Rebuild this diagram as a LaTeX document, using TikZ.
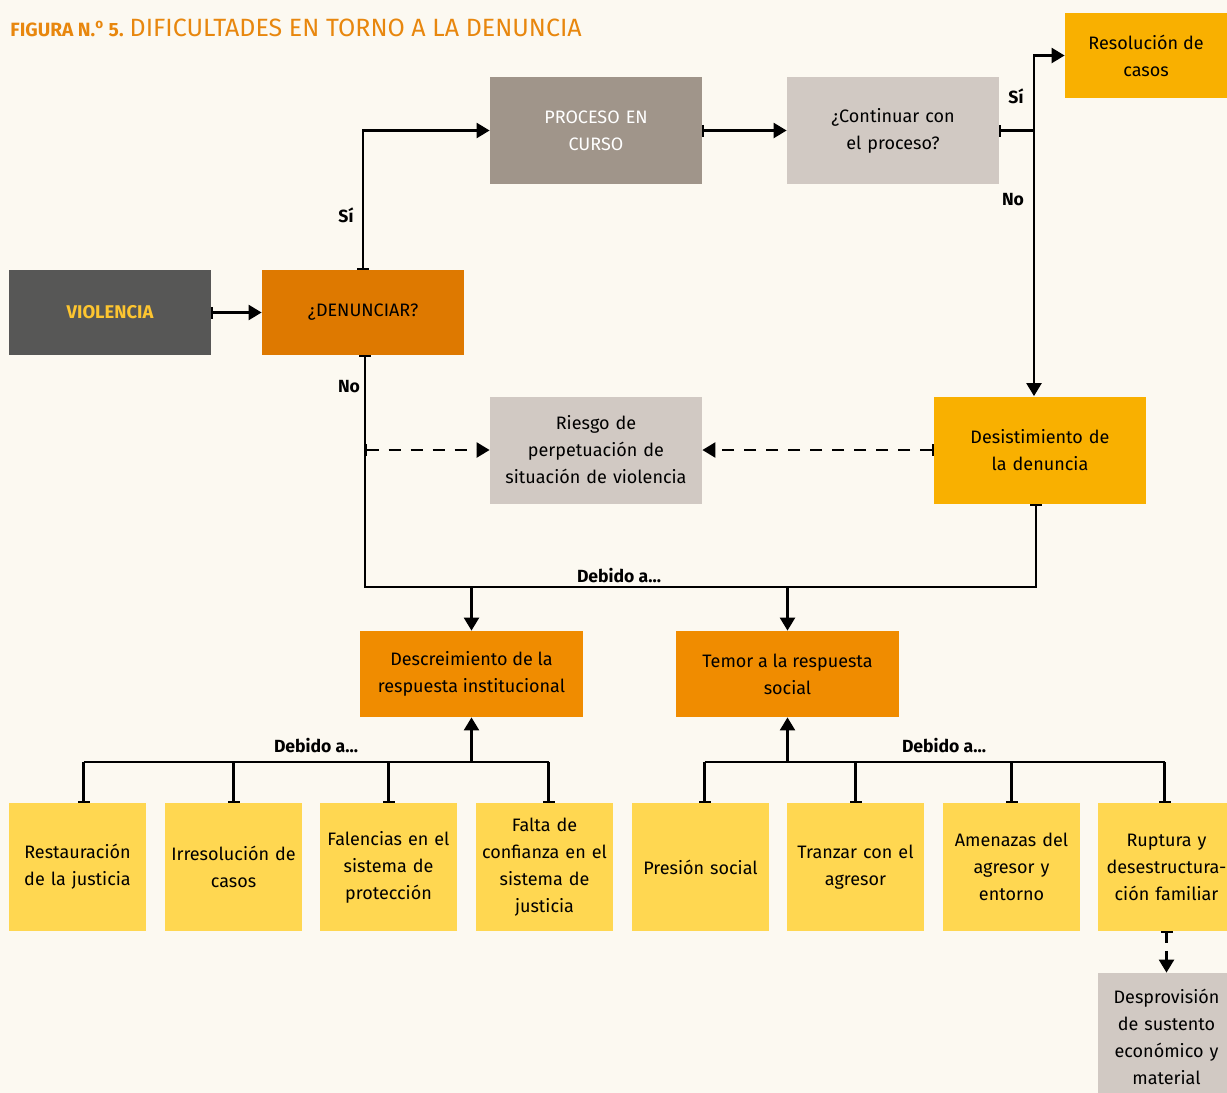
\documentclass[tikz,border=0pt]{standalone}
\usepackage{fontspec}
\setmainfont{Fira Sans}
\usetikzlibrary{arrows.meta}
\definecolor{fondo}{HTML}{FCF9F1}
\definecolor{grisosc}{HTML}{575756}
\definecolor{grismed}{HTML}{A0958A}
\definecolor{grisclaro}{HTML}{D1C9C3}
\definecolor{naranja}{HTML}{DE7900}
\definecolor{naranjab}{HTML}{F08C00}
\definecolor{ambar}{HTML}{F9B000}
\definecolor{amarillo}{HTML}{FFD751}
\definecolor{amarillot}{HTML}{FDC530}
\definecolor{titulo}{HTML}{E8870E}
\tikzset{
  caja/.style={rectangle, inner sep=1pt, align=center, font=\fontsize{9}{13.5}\selectfont},
  ancha/.style={caja, minimum width=106pt, minimum height=53.5pt, text width=102pt},
  media/.style={caja, minimum width=101pt, minimum height=42.5pt},
  baja/.style={caja, fill=amarillo, minimum width=68.5pt, minimum height=64pt, text width=66pt},
  etq/.style={font=\fontsize{8.8}{10}\selectfont\bfseries},
  flecha/.style={line width=1.2pt, {Bar[width=6pt,line width=1pt]}-{Triangle[width=7.5pt,length=6.5pt]}},
  linea/.style={line width=1.2pt},
}
\begin{document}
\begin{tikzpicture}[x=0.5pt, y=-0.5pt]
  \fill[fondo] (0,0) rectangle (1227,1093);
  \useasboundingbox (0,0) rectangle (1227,1093);
  \clip (0,0) rectangle (1227,1093);
  \node[anchor=base west, text=titulo, inner sep=0] (tit) at (10,36)
    {\fontsize{9.6}{10}\selectfont\bfseries FIGURA N.\textsuperscript{o} 5. \fontsize{12.5}{13}\mdseries\selectfont DIFICULTADES EN TORNO A LA DENUNCIA};
  % fila superior
  \node[media, fill=grisosc, text=amarillot, font=\fontsize{9.2}{13.5}\selectfont\bfseries] (vio) at (110,312.5) {VIOLENCIA};
  \node[media, fill=naranja] (den) at (363,312.5) {¿DENUNCIAR?};
  \node[ancha, fill=grismed, text=white] (pro) at (596,130.5) {PROCESO EN\\CURSO};
  \node[ancha, fill=grisclaro] (con) at (893,130.5) {¿Continuar con\\el proceso?};
  \node[caja, fill=ambar, minimum width=81pt, minimum height=42.5pt] (res) at (1146,55.5) {Resolución de\\casos};
  \node[ancha, fill=grisclaro] (rie) at (596,450) {Riesgo de\\perpetuación de\\situación de violencia};
  \node[ancha, fill=ambar] (des) at (1040,450) {Desistimiento de\\la denuncia};
  \node[caja, fill=naranjab, minimum width=111.5pt, minimum height=43pt] (dsc) at (471.5,674) {Descreimiento de la\\respuesta institucional};
  \node[caja, fill=naranjab, minimum width=111.5pt, minimum height=43pt] (tem) at (787.5,674) {Temor a la respuesta\\social};
  % causas
  \node[baja] (b1) at (77.5,867) {Restauración\\de la justicia};
  \node[baja] (b2) at (233.5,867) {Irresolución de\\casos};
  \node[baja] (b3) at (388.5,867) {Falencias en el\\sistema de\\protección};
  \node[baja] (b4) at (544.5,867) {Falta de\\confianza en el\\sistema de\\justicia};
  \node[baja] (b5) at (700.5,867) {Presión social};
  \node[baja] (b6) at (855.5,867) {Tranzar con el\\agresor};
  \node[baja] (b7) at (1011.5,867) {Amenazas del\\agresor y\\entorno};
  \node[baja] (b8) at (1166.5,867) {Ruptura y\\desestructura-\\ción familiar};
  \node[baja, fill=grisclaro] (dep) at (1166.5,1037) {Desprovisión\\de sustento\\económico y\\material};
  % conectores
  \coordinate (j1) at (1034,130.5);
  \coordinate (deb) at (619,587);
  \coordinate (t1) at (316,762);
  \coordinate (t2) at (944,762);
  \draw[flecha] (vio) -- (den);
  \draw[flecha] (den.north) |- (pro.west);
  \draw[flecha] (pro) -- (con);
  \draw[linea, {Bar[width=6pt,line width=1pt]}-] (con.east) -- (j1);
  \draw[linea, -{Triangle[width=7.5pt,length=6.5pt]}] (j1) |- (res.west);
  \draw[linea, -{Triangle[width=7.5pt,length=6.5pt]}] (j1) -- (j1 |- des.north);
  \draw[linea, {Bar[width=6pt,line width=1pt]}-{Bar[width=6pt,line width=1pt]}]
    ([xshift=1pt]den.south) -- ([xshift=1pt]den.south |- deb) -- ([xshift=-2pt]des.south |- deb) -- ([xshift=-2pt]des.south);
  \draw[linea, -{Triangle[width=7.5pt,length=6.5pt]}] (dsc.north |- deb) -- (dsc.north);
  \draw[linea, -{Triangle[width=7.5pt,length=6.5pt]}] (tem.north |- deb) -- (tem.north);
  \draw[flecha, dash pattern=on 6pt off 5pt] ([xshift=1pt]den.south |- rie.west) -- (rie.west);
  \draw[flecha, dash pattern=on 6pt off 5pt] (des.west) -- (rie.east);
  \draw[flecha, dash pattern=on 5pt off 4pt] (b8) -- (dep);
  % arboles
  \draw[linea, -{Triangle[width=7.5pt,length=6.5pt]}] (dsc.south |- t1) -- (dsc.south);
  \draw[linea, -{Triangle[width=7.5pt,length=6.5pt]}] (tem.south |- t2) -- (tem.south);
  \draw[linea] ([xshift=3pt]b1.north |- t1) -- ([xshift=2pt]b4.north |- t1);
  \draw[linea] ([xshift=2pt]b5.north |- t2) -- ([xshift=-1pt]b8.north |- t2);
  \foreach \b/\s in {b1/3pt, b2/0pt, b3/0pt, b4/2pt, b5/2pt, b6/0pt, b7/0pt, b8/-1pt}
    \draw[linea, -{Bar[width=6pt,line width=1pt]}] ([xshift=\s]\b.north |- t1) -- ([xshift=\s]\b.north);
  % etiquetas
  \node[etq] (si1) at (346,215) {Sí};
  \node[etq] (no1) at (349,387) {No};
  \node[etq] (si2) at (1016,96) {Sí};
  \node[etq] (no2) at (1013,200) {No};
  \node[etq] (d1) at (619,576) {Debido a...};
  \node[etq] (d2) at (316,746) {Debido a...};
  \node[etq] (d3) at (944,746) {Debido a...};
\end{tikzpicture}
\end{document}
